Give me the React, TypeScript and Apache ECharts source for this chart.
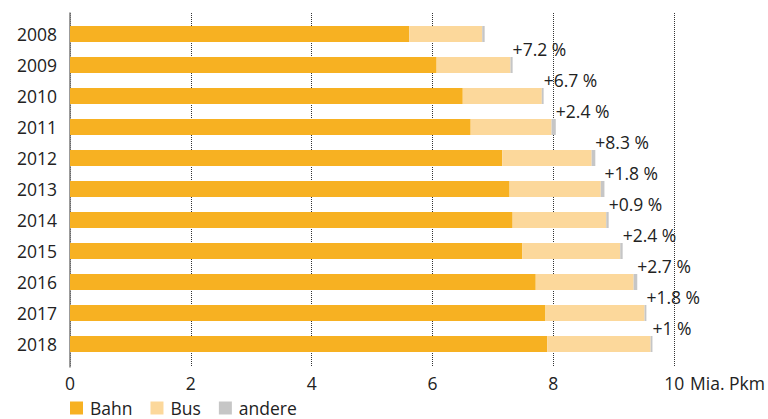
import React, { useEffect, useRef } from 'react';
import * as echarts from 'echarts';

const years = ['2008', '2009', '2010', '2011', '2012', '2013', '2014', '2015', '2016', '2017', '2018'];
const bahn = [5.58, 6.03, 6.46, 6.59, 7.11, 7.23, 7.28, 7.44, 7.66, 7.82, 7.85];
const bus = [1.2, 1.215, 1.3, 1.33, 1.47, 1.5, 1.54, 1.61, 1.61, 1.63, 1.7];
const andere = [0.04, 0.035, 0.03, 0.07, 0.06, 0.06, 0.04, 0.04, 0.06, 0.03, 0.03];
const growth = ['', '+7.2 %', '+6.7 %', '+2.4 %', '+8.3 %', '+1.8 %', '+0.9 %', '+2.4 %', '+2.7 %', '+1.8 %', '+1 %'];
const seriesNames = ['Bahn', 'Bus', 'andere'];
const axisMin = 0;
const axisMax = 10;
const axisInterval = 2;
const unitName = 'Mia. Pkm';

const FONT = "'Open Sans', 'Noto Sans', sans-serif";
const TXT = '#222222';
const FS = 17.5;

export default function App() {
  const ref = useRef<HTMLDivElement>(null);
  useEffect(() => {
    document.body.style.margin = '0';
    const chart = echarts.init(ref.current!, null, { renderer: 'svg' });
    chart.setOption({
      animation: false,
      textStyle: { fontFamily: FONT, color: TXT },
      grid: [
        { left: 70, top: 13, width: 608, height: 354 },
        { left: 70, top: 18.5, width: 608, height: 341 },
      ],
      legend: {
        data: seriesNames,
        left: 65,
        top: 394,
        icon: 'rect',
        itemWidth: 13,
        itemHeight: 13,
        itemGap: 18,
        textStyle: { fontSize: FS, color: TXT, fontFamily: FONT, padding: [0, 0, 0, 2] },
      },
      xAxis: [
        {
          gridIndex: 0,
          type: 'value',
          min: axisMin,
          max: axisMax,
          interval: axisInterval,
          axisLine: { show: false },
          axisTick: { show: false },
          splitLine: { show: true, lineStyle: { type: 'dotted', color: '#333', width: 1 } },
          axisLabel: { fontSize: FS, color: TXT, margin: 7, fontFamily: FONT },
          name: unitName,
          nameLocation: 'end',
          nameGap: 13,
          nameTextStyle: {
            fontSize: FS,
            color: TXT,
            fontFamily: FONT,
            align: 'left',
            verticalAlign: 'top',
            padding: [7, 0, 0, 0],
          },
        },
        { gridIndex: 1, type: 'value', min: axisMin, max: axisMax, show: false },
      ],
      yAxis: [
        {
          gridIndex: 0,
          type: 'value',
          min: 0,
          max: 1,
          axisLine: { show: true, lineStyle: { color: '#7a7a7a', width: 1.5 } },
          axisTick: { show: false },
          axisLabel: { show: false },
          splitLine: { show: false },
        },
        {
          gridIndex: 1,
          type: 'category',
          data: years,
          inverse: true,
          axisLine: { show: false },
          axisTick: { show: false },
          axisLabel: { margin: 13, fontSize: FS, color: TXT, fontFamily: FONT },
        },
      ],
      series: [
        {
          name: 'Bahn',
          type: 'bar',
          stack: 'total',
          xAxisIndex: 1,
          yAxisIndex: 1,
          barWidth: 16,
          itemStyle: { color: '#F7B122' },
          data: bahn,
        },
        {
          name: 'Bus',
          type: 'bar',
          stack: 'total',
          xAxisIndex: 1,
          yAxisIndex: 1,
          barWidth: 16,
          itemStyle: { color: '#FCD89B' },
          data: bus,
        },
        {
          name: 'andere',
          type: 'bar',
          stack: 'total',
          xAxisIndex: 1,
          yAxisIndex: 1,
          barWidth: 16,
          itemStyle: { color: '#C6C6C6' },
          data: andere,
          label: {
            show: true,
            position: ['100%', -8],
            align: 'left',
            verticalAlign: 'middle',
            fontSize: FS,
            color: TXT,
            fontFamily: FONT,
            formatter: (p: any) => growth[p.dataIndex],
          },
        },
      ],
    });
    return () => chart.dispose();
  }, []);
  return <div ref={ref} style={{ width: 768, height: 419 }} />;
}
